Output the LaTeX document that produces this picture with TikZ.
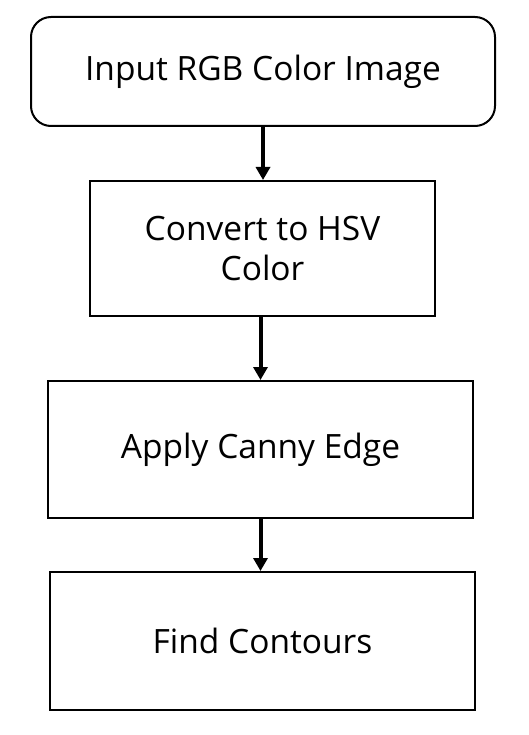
\documentclass[tikz,border=0pt]{standalone}
\usepackage{fontspec}
\setmainfont{Open Sans}
\usetikzlibrary{arrows.meta}
\begin{document}
\begin{tikzpicture}[x=1pt,y=-1pt,
  box/.style={draw=black,line width=2pt,inner sep=0pt,align=center,
    font=\fontsize{33.5}{40}\selectfont},
  flow/.style={line width=4pt,-{Triangle[width=14pt,length=13pt]}}]
\useasboundingbox (0,0) rectangle (528,735);
\node[box,rounded corners=20pt,minimum width=464pt,minimum height=109pt] (n1) at (263,71.5) {Input RGB Color Image};
\node[box,minimum width=345pt,minimum height=135pt] (n2) at (262.5,248.5) {Convert to HSV\\Color};
\node[box,minimum width=425pt,minimum height=137pt] (n3) at (260.5,449.5) {Apply Canny Edge};
\node[box,minimum width=425pt,minimum height=138pt] (n4) at (262.5,641) {Find Contours};
\draw[flow] (n1.south) -- (n1.south |- n2.north);
\draw[flow] (n3.north |- n2.south) -- (n3.north);
\draw[flow] (n3.south) -- (n3.south |- n4.north);
\end{tikzpicture}
\end{document}
